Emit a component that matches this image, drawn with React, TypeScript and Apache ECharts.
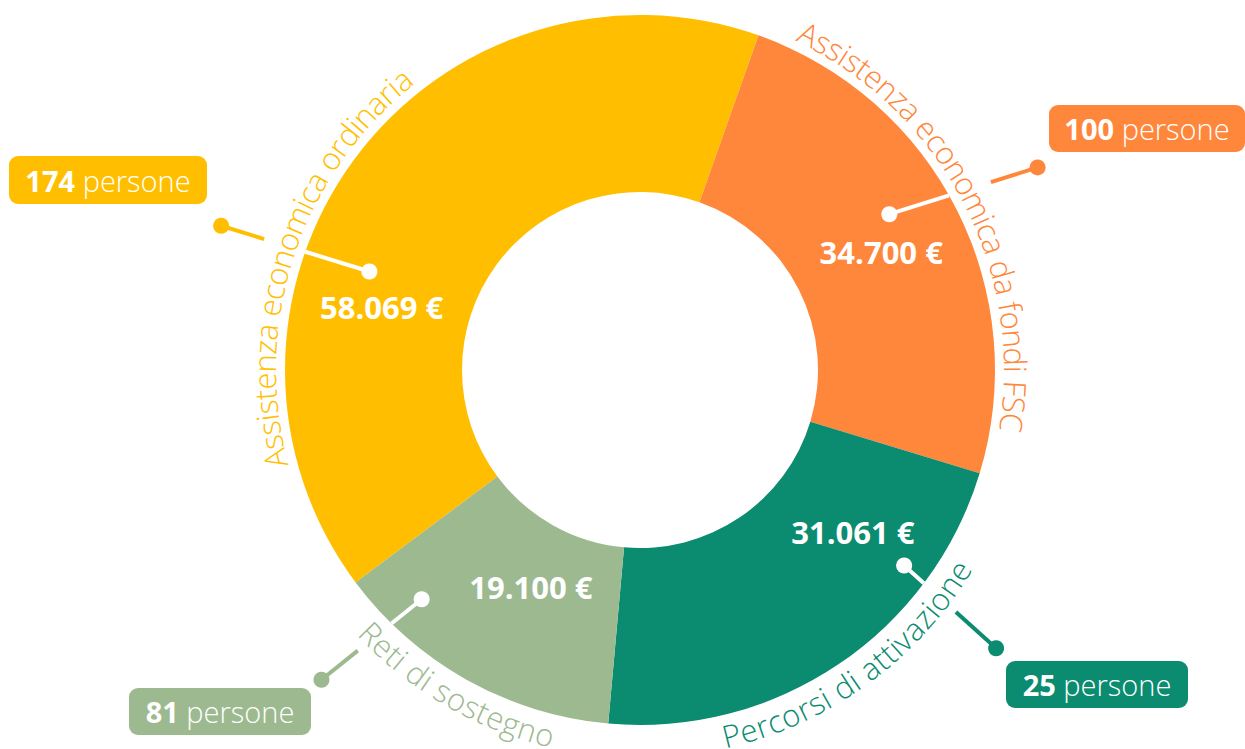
import React, { useEffect, useRef } from 'react';
import * as echarts from 'echarts';

// ---------- data ----------
const categories = [
  'Assistenza economica ordinaria',
  'Assistenza economica da fondi FSC',
  'Percorsi di attivazione',
  'Reti di sostegno',
];
const amounts = [58069, 34700, 31061, 19100];
const people = [174, 100, 25, 81];
const peopleUnit = 'persone';
const currency = '€';

// ---------- style / layout ----------
const colors = ['#FFBF00', '#FF873B', '#0B8B6F', '#9DB98F'];
const CX = 640;
const CY = 370;
const R_IN = 178;
const R_OUT = 355;
const SECOND_SLICE_START = 19.5; // degrees clockwise from 12 o'clock
const FONT = '"Open Sans", "Noto Sans", sans-serif';
const ARC_FONT_SIZE = 31;
const ARC_R = 376;
const GAP_R = 398;
const VALUE_FONT_SIZE = 31;
const BADGE_FONT_SIZE = 29;

type Polar = { a: number; r: number };
const layout: {
  value: Polar;
  dotIn: Polar;
  dotOut: Polar;
  badge: [number, number, number, number];
  arcCenter: number;
  dir: number;
}[] = [
  { value: { a: 283.8, r: 266 }, dotIn: { a: 290, r: 288 }, dotOut: { a: 289, r: 443 }, badge: [9, 156, 198, 48], arcCenter: 288.4, dir: 1 },
  { value: { a: 64, r: 268.4 }, dotIn: { a: 58, r: 294 }, dotOut: { a: 63, r: 446.2 }, badge: [1049, 105, 196, 47], arcCenter: 62.4, dir: 1 },
  { value: { a: 127.2, r: 267.3 }, dotIn: { a: 126.5, r: 328.6 }, dotOut: { a: 128, r: 451.9 }, badge: [1006, 661, 182, 47], arcCenter: 144.1, dir: -1 },
  { value: { a: 206.7, r: 243 }, dotIn: { a: 223.6, r: 316.6 }, dotOut: { a: 225.8, r: 444.3 }, badge: [129, 688, 182, 47], arcCenter: 210.1, dir: -1 },
];

const rad = (d: number) => (d * Math.PI) / 180;
const toXY = (p: Polar): [number, number] => [CX + p.r * Math.sin(rad(p.a)), CY - p.r * Math.cos(rad(p.a))];
const fmt = (v: number) => String(v).replace(/\B(?=(\d{3})+(?!\d))/g, '.');

function circleT(p1: [number, number], p2: [number, number], R: number) {
  const dx = p2[0] - p1[0];
  const dy = p2[1] - p1[1];
  const fx = p1[0] - CX;
  const fy = p1[1] - CY;
  const a = dx * dx + dy * dy;
  const b = 2 * (fx * dx + fy * dy);
  const c = fx * fx + fy * fy - R * R;
  const disc = Math.max(0, b * b - 4 * a * c);
  const t = (-b + Math.sqrt(disc)) / (2 * a);
  return Math.min(1, Math.max(0, t));
}

function buildGraphics() {
  const els: any[] = [];
  const canvas = document.createElement('canvas');
  const ctx = canvas.getContext('2d')!;
  const arcFont = `300 ${ARC_FONT_SIZE}px ${FONT}`;
  ctx.font = arcFont;

  layout.forEach((L, i) => {
    const color = colors[i];
    // curved category label
    const text = categories[i];
    const widths = Array.from(text).map((ch) => ctx.measureText(ch).width);
    const total = widths.reduce((s, w) => s + w, 0);
    const span = total / ARC_R;
    const c0 = rad(L.arcCenter);
    let cum = 0;
    Array.from(text).forEach((ch, k) => {
      const w = widths[k];
      const off = (cum + w / 2) / ARC_R;
      cum += w;
      if (ch === ' ') return;
      const ang = L.dir === 1 ? c0 - span / 2 + off : c0 + span / 2 - off;
      const x = CX + ARC_R * Math.sin(ang);
      const y = CY - ARC_R * Math.cos(ang);
      els.push({
        type: 'text',
        x,
        y,
        rotation: L.dir === 1 ? -ang : Math.PI - ang,
        z: 10,
        silent: true,
        style: { text: ch, fill: color, font: arcFont, align: 'center', verticalAlign: 'middle' },
      });
    });

    // leader line
    const p1 = toXY(L.dotIn);
    const p2 = toXY(L.dotOut);
    const t1 = circleT(p1, p2, R_OUT);
    const t2 = circleT(p1, p2, GAP_R);
    const at = (t: number): [number, number] => [p1[0] + (p2[0] - p1[0]) * t, p1[1] + (p2[1] - p1[1]) * t];
    const e1 = at(t1);
    const s2 = at(t2);
    els.push({
      type: 'line', z: 10, silent: true,
      shape: { x1: p1[0], y1: p1[1], x2: e1[0], y2: e1[1] },
      style: { stroke: '#ffffff', lineWidth: 4 },
    });
    els.push({
      type: 'line', z: 10, silent: true,
      shape: { x1: s2[0], y1: s2[1], x2: p2[0], y2: p2[1] },
      style: { stroke: color, lineWidth: 4 },
    });
    els.push({ type: 'circle', z: 11, silent: true, shape: { cx: p1[0], cy: p1[1], r: 8 }, style: { fill: '#ffffff' } });
    els.push({ type: 'circle', z: 11, silent: true, shape: { cx: p2[0], cy: p2[1], r: 8 }, style: { fill: color } });

    // value label
    const v = toXY(L.value);
    els.push({
      type: 'text', x: v[0], y: v[1], z: 12, silent: true,
      style: {
        text: `${fmt(amounts[i])} ${currency}`,
        fill: '#ffffff',
        font: `700 ${VALUE_FONT_SIZE}px ${FONT}`,
        align: 'center',
        verticalAlign: 'middle',
      },
    });

    // badge
    const [bx, by, bw, bh] = L.badge;
    els.push({
      type: 'rect', z: 10, silent: true,
      shape: { x: bx, y: by, width: bw, height: bh, r: 9 },
      style: { fill: color },
    });
    els.push({
      type: 'text', x: bx + bw / 2, y: by + bh / 2, z: 12, silent: true,
      style: {
        text: `{b|${people[i]}} {l|${peopleUnit}}`,
        fill: '#ffffff',
        font: `300 ${BADGE_FONT_SIZE}px ${FONT}`,
        align: 'center',
        verticalAlign: 'middle',
        rich: {
          b: { fill: '#ffffff', fontFamily: FONT, fontWeight: 700, fontSize: BADGE_FONT_SIZE },
          l: { fill: '#ffffff', fontFamily: FONT, fontWeight: 300, fontSize: BADGE_FONT_SIZE },
        },
      },
    });
  });
  return els;
}

export default function App() {
  const ref = useRef<HTMLDivElement>(null);
  useEffect(() => {
    document.body.style.margin = '0';
    const chart = echarts.init(ref.current!, undefined, { renderer: 'svg' });
    const total = amounts.reduce((s, v) => s + v, 0);
    const firstStart = SECOND_SLICE_START - (amounts[0] / total) * 360;
    chart.setOption({
      animation: false,
      backgroundColor: '#ffffff',
      series: [
        {
          type: 'pie',
          center: [CX, CY],
          radius: [R_IN, R_OUT],
          startAngle: 90 - firstStart,
          clockwise: true,
          silent: true,
          avoidLabelOverlap: false,
          label: { show: false },
          labelLine: { show: false },
          emphasis: { disabled: true },
          data: categories.map((name, i) => ({ name, value: amounts[i], itemStyle: { color: colors[i] } })),
        },
      ],
      graphic: buildGraphics(),
    });
    return () => chart.dispose();
  }, []);
  return <div ref={ref} style={{ width: 1245, height: 749 }} />;
}
